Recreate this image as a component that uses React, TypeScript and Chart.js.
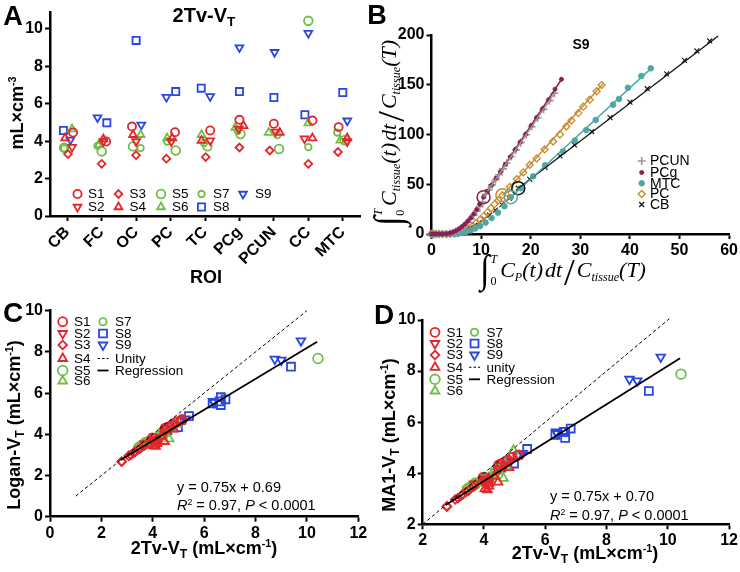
import React, { useEffect, useRef } from 'react';
import { Chart, registerables } from 'chart.js';

Chart.register(...registerables);

const SANS = '"Liberation Sans", Arial, Helvetica, sans-serif';
const SERIF = '"Liberation Serif", "Times New Roman", "DejaVu Serif", serif';

const RED = '#e4262b';
const GREEN = '#6fbe45';
const BLUE = '#2a46e2';

// ---------------- DATA ----------------
const ROI = ['CB', 'FC', 'OC', 'PC', 'TC', 'PCg', 'PCUN', 'CC', 'MTC'];
const SUBJECTS = ['S1', 'S2', 'S3', 'S4', 'S5', 'S6', 'S7', 'S8', 'S9'];

// 2Tv-VT (rows: S1..S9, columns: ROI order)
const TV2_VT = [
  [4.46, 3.98, 4.78, 4.48, 4.57, 5.14, 4.93, 5.10, 4.75],
  [3.68, 3.98, 3.98, 3.98, 4.03, 4.66, 4.50, 4.13, 3.98],
  [3.31, 2.79, 3.25, 3.06, 3.15, 3.66, 3.50, 2.79, 3.42],
  [4.16, 4.11, 4.34, 4.16, 4.03, 4.82, 4.46, 4.16, 4.16],
  [3.65, 3.45, 3.72, 3.50, 3.72, 4.38, 3.58, 10.43, 4.05],
  [4.64, 3.80, 4.34, 4.16, 4.34, 4.73, 4.46, 4.96, 4.04],
  [3.62, 3.75, 3.63, 3.98, 3.90, 4.55, 4.32, 3.68, 4.46],
  [4.57, 4.98, 9.38, 6.65, 6.83, 6.65, 6.33, 5.41, 6.60],
  [4.07, 5.26, 4.87, 6.35, 6.39, 9.00, 8.75, 9.77, 5.09],
];

// horizontal jitter of the points inside each ROI column (panel A)
const A_JITTER = [
  [0.17, 0.13, -0.12, 0.13, 0.15, 0.0, 0.0, 0.12, -0.12],
  [0.14, 0.05, 0.0, 0.02, 0.15, -0.02, 0.05, -0.11, 0.13],
  [0.02, 0.0, 0.0, -0.12, 0.02, 0.0, -0.12, 0.0, -0.14],
  [-0.06, 0.05, -0.09, 0.05, -0.1, 0.12, 0.17, 0.12, 0.13],
  [-0.09, 0.0, -0.09, 0.15, 0.07, 0.03, 0.15, 0.0, 0.05],
  [0.14, -0.08, 0.13, -0.1, -0.1, -0.12, -0.15, 0.0, -0.07],
  [-0.09, -0.12, 0.13, -0.1, -0.03, -0.05, 0.1, 0.0, -0.16],
  [-0.11, 0.15, 0.0, 0.15, -0.11, 0.0, 0.0, -0.1, 0.0],
  [0.09, -0.12, 0.15, -0.12, 0.15, 0.0, 0.02, 0.0, 0.13],
];

// Logan-VT (rows: S1..S9, columns: ROI order)
const LOGAN_VT = [
  [4.22, 3.82, 4.50, 4.30, 4.35, 4.72, 4.60, 4.68, 4.45],
  [3.55, 3.75, 3.70, 3.70, 3.70, 4.30, 4.15, 3.75, 3.65],
  [3.15, 2.67, 3.10, 2.95, 3.00, 3.45, 3.30, 2.68, 3.25],
  [3.75, 3.42, 3.90, 3.55, 3.45, 4.25, 3.65, 3.62, 3.70],
  [3.50, 3.35, 3.60, 3.40, 3.55, 4.10, 3.45, 7.68, 3.80],
  [3.78, 3.60, 3.95, 3.80, 3.90, 4.25, 4.05, 4.50, 3.75],
  [3.50, 3.55, 3.50, 3.75, 3.70, 4.20, 4.00, 3.55, 4.10],
  [4.20, 4.35, 7.28, 5.42, 5.70, 5.80, 5.50, 4.88, 5.60],
  [3.85, 4.75, 4.45, 5.60, 5.55, 7.60, 7.65, 8.54, 4.65],
];

// MA1-VT (rows: S1..S9, columns: ROI order)
const MA1_VT = [
  [4.24, 3.85, 4.52, 4.33, 4.38, 4.72, 4.62, 4.70, 4.48],
  [3.58, 3.78, 3.72, 3.72, 3.72, 4.32, 4.18, 3.75, 3.66],
  [3.17, 2.70, 3.12, 2.97, 3.02, 3.47, 3.32, 2.70, 3.27],
  [3.78, 3.35, 3.88, 3.50, 3.40, 4.22, 3.65, 3.60, 3.68],
  [3.52, 3.37, 3.62, 3.42, 3.57, 4.12, 3.48, 7.88, 3.82],
  [3.80, 3.62, 3.98, 3.82, 3.92, 4.28, 4.08, 4.90, 3.78],
  [3.52, 3.57, 3.52, 3.77, 3.72, 4.22, 4.02, 3.57, 4.12],
  [4.22, 4.38, 7.22, 5.38, 5.75, 5.62, 5.50, 4.95, 5.62],
  [3.88, 4.78, 4.48, 5.62, 5.55, 7.62, 7.68, 8.55, 4.68],
];

// Panel B (S9 Logan plots)
const B_PCUN_X = [0, 0.4, 0.9, 1.5, 2.2, 3.0, 3.7, 4.3, 4.9, 5.5, 6.1, 6.7, 7.3, 7.9, 8.5, 9.1, 9.7, 10.3, 10.9, 11.5, 12.2, 12.9, 13.6, 14.4, 15.2, 16.1, 17.0, 18.0, 19.1, 20.2, 21.4, 22.6, 23.8, 24.8];
const B_PCUN_Y = [0, 0, 0, 0, 0, 0.1, 0.5, 1.3, 2.5, 4, 6, 8.5, 11.5, 15, 19, 23, 27.5, 32, 40, 44.3, 49.4, 54.5, 59.6, 65.5, 71.3, 77.9, 84.5, 91.8, 99.8, 107.8, 116.6, 125.3, 134, 141.4];
const B_PCG_X = [0, 0.4, 0.9, 1.5, 2.2, 3.0, 3.7, 4.3, 4.9, 5.5, 6.1, 6.7, 7.3, 7.9, 8.5, 9.1, 9.7, 10.5, 11.3, 12.1, 13.0, 13.9, 14.9, 15.9, 16.9, 17.9, 19.0, 20.1, 21.2, 22.4, 23.6, 24.9, 26.2];
const B_PCG_Y = [0, 0, 0, 0, 0, 0.2, 0.8, 1.8, 3.2, 5, 7.2, 9.8, 12.8, 16.2, 20, 24.5, 30, 37, 43, 49, 56, 62.5, 70, 77.5, 85, 92.5, 100.5, 109, 117, 126, 135, 145.5, 155.5];
const B_MTC_X = [0, 0.4, 0.9, 1.5, 2.2, 3.0, 3.8, 4.6, 5.4, 6.2, 7.0, 7.9, 8.8, 9.8, 10.9, 12.1, 13.4, 14.7, 16.0, 18.0, 20.5, 22.9, 26.5, 28.9, 31.2, 33.1, 36.6, 37.8, 39.6, 42.3, 44.2];
const B_MTC_Y = [0, 0, 0, 0, 0, 0, 0, 0.2, 0.5, 1.2, 2.2, 3.6, 5.5, 8, 11.5, 16, 21.5, 28, 37, 46, 58, 69, 83, 94, 104.5, 114.6, 130, 135.7, 147, 158.8, 166.5];
const B_PC_X = [0, 0.4, 0.9, 1.5, 2.2, 3.0, 3.8, 4.6, 5.3, 6.0, 6.8, 7.5, 8.3, 9.0, 9.8, 10.5, 11.3, 12.0, 12.7, 13.5, 14.3, 15.8, 17.2, 18.5, 19.8, 21.2, 22.8, 24.5, 25.9, 27.2, 28.2, 29.6, 30.6, 31.9, 33.3, 34.3];
const B_PC_Y = [0, 0, 0, 0, 0, 0, 0.1, 0.4, 1.0, 2.0, 3.5, 5.5, 8, 11, 14.5, 18, 22, 26, 30, 34, 39, 47.3, 55, 62, 69.4, 76, 85, 93, 100, 108, 114, 121.5, 128, 135, 143.5, 149.7];
const B_CB_X = [0, 0.4, 0.9, 1.5, 2.2, 3.0, 3.8, 4.6, 5.4, 6.2, 7.0, 7.8, 8.7, 9.6, 10.6, 11.7, 12.9, 14.2, 15.7, 17.5, 19.8, 22.9, 25.9, 28.8, 32.3, 36.0, 40.0, 43.5, 47.4, 51.0, 53.5, 56.1];
const B_CB_Y = [0, 0, 0, 0, 0, 0, 0.2, 0.6, 1.4, 2.6, 4.2, 6.2, 8.6, 11.5, 15, 19, 24, 29.5, 36, 46, 55, 67, 78.5, 89.5, 103, 117, 132.5, 146, 161, 174.5, 184, 194];

// fitted linear segments (start, end) and the start-of-fit markers
const B_FIT_PCUN = [[10.5, 37], [25.0, 143]];
const B_FIT_PCG = [[10.5, 37], [26.3, 156]];
const B_FIT_MTC = [[16.0, 37], [44.5, 167.5]];
const B_FIT_PC = [[14.3, 39], [34.6, 151]];
const B_FIT_CB = [[17.5, 46], [57.8, 199]];

// C / D reference lines
const C_UNITY = [[1, 1], [10, 10]];
const C_REG = [[2.75, 2.75], [10.4, 8.49]];
const D_UNITY = [[2, 2], [10.05, 10.05]];
const D_REG = [[2.75, 2.76], [10.4, 8.5]];

const A_Y_TICKS = [0, 2, 4, 6, 8, 10];
const A_X_TICKS = [0, 1, 2, 3, 4, 5, 6, 7, 8];
const B_X_TICKS = [0, 10, 20, 30, 40, 50, 60];
const B_Y_TICKS = [0, 50, 100, 150, 200];
const C_X_TICKS = [0, 2, 4, 6, 8, 10, 12];
const C_Y_TICKS = [0, 2, 4, 6, 8, 10];
const D_X_TICKS = [2, 4, 6, 8, 10, 12];
const D_Y_TICKS = [2, 4, 6, 8, 10];

// ---------------- STYLES ----------------
const SUBJ_SHAPE = ['circle', 'triangle', 'rectRot', 'triangle', 'circle', 'triangle', 'circle', 'rect', 'triangle'];
const SUBJ_ROT = [0, 180, 0, 0, 0, 0, 0, 0, 180];
const SUBJ_COLOR = [RED, RED, RED, RED, GREEN, GREEN, GREEN, BLUE, BLUE];
const SUBJ_R = [4.5, 5, 4.3, 5, 4.8, 5, 3.6, 5.6, 5];

const GRAY = '#9a9a9a';
const MAROON = '#8f1d52';
const TEAL = '#4fa7a3';
const ORANGE = '#c98a30';
const BLACK = '#111111';

function drawMarker(ctx: any, shape: string, x: number, y: number, r: number, color: string, fill: boolean, lw: number, rot = 0) {
  ctx.save();
  ctx.lineWidth = lw;
  ctx.strokeStyle = color;
  ctx.fillStyle = color;
  ctx.beginPath();
  if (shape === 'circle') {
    ctx.arc(x, y, r, 0, Math.PI * 2);
  } else if (shape === 'triangle') {
    let a = (rot * Math.PI) / 180;
    for (let k = 0; k < 3; k++) {
      const px = x + Math.sin(a) * r;
      const py = y - Math.cos(a) * r;
      if (k === 0) ctx.moveTo(px, py); else ctx.lineTo(px, py);
      a += (2 * Math.PI) / 3;
    }
    ctx.closePath();
  } else if (shape === 'rectRot') {
    ctx.moveTo(x, y - r); ctx.lineTo(x + r, y); ctx.lineTo(x, y + r); ctx.lineTo(x - r, y); ctx.closePath();
  } else if (shape === 'rect') {
    const s = r * Math.SQRT1_2;
    ctx.rect(x - s, y - s, 2 * s, 2 * s);
  } else if (shape === 'cross') {
    ctx.moveTo(x, y - r); ctx.lineTo(x, y + r); ctx.moveTo(x - r, y); ctx.lineTo(x + r, y);
  } else if (shape === 'crossRot') {
    const s = r * Math.SQRT1_2;
    ctx.moveTo(x - s, y - s); ctx.lineTo(x + s, y + s); ctx.moveTo(x - s, y + s); ctx.lineTo(x + s, y - s);
  } else if (shape === 'dash') {
    ctx.setLineDash([2.5, 2]);
    ctx.moveTo(x - r, y); ctx.lineTo(x + r, y);
  } else if (shape === 'line') {
    ctx.moveTo(x - r, y); ctx.lineTo(x + r, y);
  }
  if (fill) ctx.fill();
  ctx.stroke();
  ctx.restore();
}

type LegendItem = { label: string; shape: string; color: string; r: number; fill?: boolean; lw?: number; rot?: number; mx: number; tx: number; y: number };

function makeLegendPlugin(items: LegendItem[], fontSize: number) {
  return {
    id: 'markerLegend',
    afterDraw(chart: any) {
      const ctx = chart.ctx;
      for (const it of items) {
        drawMarker(ctx, it.shape, it.mx, it.y, it.r, it.color, !!it.fill, it.lw ?? 1.8, it.rot ?? 0);
        ctx.save();
        ctx.fillStyle = '#000';
        ctx.font = `${fontSize}px ${SANS}`;
        ctx.textBaseline = 'middle';
        ctx.textAlign = 'left';
        ctx.fillText(it.label, it.tx, it.y + 0.5);
        ctx.restore();
      }
    },
  };
}

function linAxis(o: { pos: 'x' | 'y'; min: number; max: number; ticks: number[]; size: number; label?: (v: number) => string; rotate?: number }) {
  return {
    type: 'linear',
    position: o.pos === 'x' ? 'bottom' : 'left',
    min: o.min,
    max: o.max,
    border: { display: true, color: '#000', width: 2.5 },
    grid: { display: true, drawOnChartArea: false, drawTicks: true, tickLength: 5, tickWidth: 2, tickColor: '#000' },
    ticks: {
      color: '#000',
      font: { family: SANS, size: 16, weight: 'bold' },
      padding: 2,
      autoSkip: false,
      minRotation: o.rotate ?? 0,
      maxRotation: o.rotate ?? 0,
      callback: o.label ?? ((v: any) => String(v)),
    },
    afterBuildTicks: (s: any) => {
      s.ticks = o.ticks.map((v) => ({ value: v }));
    },
    afterFit: (s: any) => {
      if (o.pos === 'x') s.height = o.size; else s.width = o.size;
    },
  };
}

function baseOptions(padding: any, x: any, y: any) {
  return {
    responsive: false,
    animation: false,
    devicePixelRatio: 1,
    layout: { padding },
    events: [],
    plugins: { legend: { display: false }, tooltip: { enabled: false }, title: { display: false } },
    scales: { x, y },
  };
}

function subjectDataset(si: number, pts: { x: number; y: number }[], scale: number) {
  return {
    label: SUBJECTS[si],
    data: pts,
    showLine: false,
    pointStyle: SUBJ_SHAPE[si],
    pointRotation: SUBJ_ROT[si],
    pointRadius: SUBJ_R[si] * scale,
    pointBorderColor: SUBJ_COLOR[si],
    pointBackgroundColor: 'rgba(255,255,255,0)',
    pointBorderWidth: 1.8,
    clip: false,
  };
}

function lineDataset(seg: number[][], color: string, width: number, dash: number[] = []) {
  return {
    data: seg.map((p) => ({ x: p[0], y: p[1] })),
    showLine: true,
    borderColor: color,
    borderWidth: width,
    borderDash: dash,
    pointRadius: 0,
    fill: false,
    clip: false,
  };
}

function subjectLegend(cols: { mx: number; tx: number }[], rows: number[], scale: number, extra: LegendItem[]): LegendItem[] {
  // column-major: first column S1..S6, second column S7..S9
  const items: LegendItem[] = [];
  SUBJECTS.forEach((s, si) => {
    const c = si < 6 ? 0 : 1;
    const r = si < 6 ? si : si - 6;
    items.push({ label: s, shape: SUBJ_SHAPE[si], rot: SUBJ_ROT[si], color: SUBJ_COLOR[si], r: SUBJ_R[si] * scale, mx: cols[c].mx, tx: cols[c].tx, y: rows[r] });
  });
  return items.concat(extra);
}

// ---------------- PANEL CONFIGS ----------------
function makeA() {
  const datasets = SUBJECTS.map((_, si) =>
    subjectDataset(si, TV2_VT[si].map((v, ri) => ({ x: A_X_TICKS[ri] + A_JITTER[si][ri], y: v })), 0.9)
  );
  const colX = [{ mx: 77.5, tx: 88 }, { mx: 118.5, tx: 129.5 }, { mx: 161, tx: 172 }, { mx: 201.5, tx: 213 }, { mx: 243, tx: 255 }];
  const rows = [194, 207];
  const legend: LegendItem[] = SUBJECTS.map((s, si) => ({
    label: s, shape: SUBJ_SHAPE[si], rot: SUBJ_ROT[si], color: SUBJ_COLOR[si], r: SUBJ_R[si] * 0.9,
    mx: colX[Math.floor(si / 2)].mx, tx: colX[Math.floor(si / 2)].tx, y: rows[si % 2],
  }));
  return {
    type: 'scatter',
    data: { datasets },
    options: baseOptions(
      { left: 0, right: 10, top: 12, bottom: 0 },
      linAxis({ pos: 'x', min: -0.5, max: 8.5, ticks: A_X_TICKS, size: 74, rotate: 45, label: (v: number) => ROI[v] }),
      linAxis({ pos: 'y', min: 0, max: 10.9, ticks: A_Y_TICKS, size: 50 })
    ),
    plugins: [makeLegendPlugin(legend, 13.5)],
  };
}

function bPoints(xs: number[], ys: number[]) {
  return xs.map((x, i) => ({ x, y: ys[i] }));
}

function makeB() {
  const mk = (xs: number[], ys: number[], shape: string, color: string, r: number, fill: boolean, bw: number) => ({
    data: bPoints(xs, ys),
    showLine: false,
    pointStyle: shape,
    pointRadius: r,
    pointBorderColor: color,
    pointBackgroundColor: fill ? color : 'rgba(255,255,255,0)',
    pointBorderWidth: bw,
    clip: false,
  });
  const ring = (seg: number[][], color: string) => ({
    data: [{ x: seg[0][0], y: seg[0][1] }],
    showLine: false,
    pointStyle: 'circle',
    pointRadius: 6.5,
    pointBorderColor: color,
    pointBackgroundColor: 'rgba(255,255,255,0)',
    pointBorderWidth: 1.5,
    clip: false,
  });
  const datasets = [
    ring(B_FIT_PCG, MAROON),
    ring(B_FIT_PC, ORANGE),
    ring(B_FIT_MTC, TEAL),
    ring(B_FIT_CB, BLACK),
    lineDataset(B_FIT_PCUN, GRAY, 1.5),
    lineDataset(B_FIT_PCG, MAROON, 1.5),
    lineDataset(B_FIT_MTC, TEAL, 1.5),
    lineDataset(B_FIT_PC, ORANGE, 1.5),
    lineDataset(B_FIT_CB, BLACK, 1.3),
    mk(B_PCG_X, B_PCG_Y, 'circle', MAROON, 2, true, 1),
    mk(B_PCUN_X, B_PCUN_Y, 'cross', GRAY, 4, false, 1.6),
    mk(B_MTC_X, B_MTC_Y, 'circle', TEAL, 2.8, true, 1),
    mk(B_PC_X, B_PC_Y, 'rectRot', ORANGE, 3.5, false, 1.3),
    mk(B_CB_X, B_CB_Y, 'crossRot', BLACK, 3.5, false, 1.1),
  ];
  const legend: LegendItem[] = [
    { label: 'PCUN', shape: 'cross', color: GRAY, r: 4, lw: 1.6, mx: 271.7, tx: 280, y: 161 },
    { label: 'PCg', shape: 'circle', color: MAROON, r: 2, fill: true, lw: 1, mx: 271.7, tx: 280, y: 172.5 },
    { label: 'MTC', shape: 'circle', color: TEAL, r: 2.8, fill: true, lw: 1, mx: 271.7, tx: 280, y: 183.3 },
    { label: 'PC', shape: 'rectRot', color: ORANGE, r: 3.5, lw: 1.3, mx: 271.7, tx: 280, y: 194 },
    { label: 'CB', shape: 'crossRot', color: BLACK, r: 3.5, lw: 1.2, mx: 271.7, tx: 280, y: 204.5 },
  ];
  return {
    type: 'scatter',
    data: { datasets },
    options: baseOptions(
      { left: 0, right: 10.5, top: 35, bottom: 0 },
      linAxis({ pos: 'x', min: 0, max: 60, ticks: B_X_TICKS, size: 56 }),
      linAxis({ pos: 'y', min: 0, max: 200, ticks: B_Y_TICKS, size: 61.5 })
    ),
    plugins: [makeLegendPlugin(legend, 14)],
  };
}

function makeCompare(yVals: number[][], unity: number[][], reg: number[][], xAxis: any, yAxis: any, padding: any, cols: { mx: number; tx: number }[], rows: number[], unityLabel: string, lineX: number) {
  const datasets: any[] = [
    lineDataset(reg, '#000', 1.8),
    lineDataset(unity, '#000', 1, [3.5, 2.5]),
  ];
  SUBJECTS.forEach((_, si) => {
    datasets.push(subjectDataset(si, TV2_VT[si].map((x, ri) => ({ x, y: yVals[si][ri] })), 1));
  });
  const extra: LegendItem[] = [
    { label: unityLabel, shape: 'dash', color: '#000', r: 5.5, lw: 1.1, mx: lineX, tx: cols[1].tx, y: rows[3] },
    { label: 'Regression', shape: 'line', color: '#000', r: 5.5, lw: 1.8, mx: lineX, tx: cols[1].tx, y: rows[4] },
  ];
  return {
    type: 'scatter',
    data: { datasets },
    options: baseOptions(padding, xAxis, yAxis),
    plugins: [makeLegendPlugin(subjectLegend(cols, rows, 1, extra), 13.5)],
  };
}

function makeC() {
  return makeCompare(
    LOGAN_VT, C_UNITY, C_REG,
    linAxis({ pos: 'x', min: 0, max: 12, ticks: C_X_TICKS, size: 55.3 }),
    linAxis({ pos: 'y', min: 0, max: 10, ticks: C_Y_TICKS, size: 50 }),
    { left: 0, right: 11.7, top: 20.7, bottom: 0 },
    [{ mx: 62.7, tx: 74 }, { mx: 103, tx: 115 }],
    [31.7, 43.5, 55, 68.5, 80.5, 91],
    'Unity', 103
  );
}

function makeD() {
  return makeCompare(
    MA1_VT, D_UNITY, D_REG,
    linAxis({ pos: 'x', min: 2, max: 12, ticks: D_X_TICKS, size: 47.7 }),
    linAxis({ pos: 'y', min: 2, max: 10, ticks: D_Y_TICKS, size: 52.7 }),
    { left: 0, right: 10.7, top: 30, bottom: 0 },
    [{ mx: 65, tx: 76.5 }, { mx: 104.5, tx: 116.5 }],
    [42.3, 53.5, 65, 77.3, 89.3, 101],
    'unity', 104.5
  );
}

// ---------------- COMPONENTS ----------------
function ChartCanvas({ left, top, width, height, make }: { left: number; top: number; width: number; height: number; make: () => any }) {
  const ref = useRef<HTMLCanvasElement | null>(null);
  useEffect(() => {
    const chart = new Chart(ref.current as HTMLCanvasElement, make());
    return () => chart.destroy();
  }, []);
  return (
    <canvas
      ref={ref}
      width={width}
      height={height}
      style={{ position: 'absolute', left, top, width, height }}
    />
  );
}

function Txt({ x, y, size, bold = true, rot = 0, align = 'center', family = SANS, italic = false, children }: any) {
  const tx = align === 'center' ? '-50%' : align === 'left' ? '0%' : '-100%';
  return (
    <div
      style={{
        position: 'absolute',
        left: x,
        top: y,
        transform: `translate(${tx}, -50%) rotate(${rot}deg)`,
        transformOrigin: align === 'left' ? 'left center' : 'center center',
        whiteSpace: 'nowrap',
        fontFamily: family,
        fontSize: size,
        fontWeight: bold ? 'bold' : 'normal',
        fontStyle: italic ? 'italic' : 'normal',
        lineHeight: 1,
        color: '#000',
      }}
    >
      {children}
    </div>
  );
}

const Sub = ({ children }: any) => (
  <span style={{ fontSize: '0.68em', position: 'relative', top: '0.32em' }}>{children}</span>
);
const Sup = ({ children }: any) => (
  <span style={{ fontSize: '0.6em', position: 'relative', top: '-0.62em' }}>{children}</span>
);

function IntegralTitle({ x, y, rot, size, num }: { x: number; y: number; rot: number; size: number; num: string }) {
  const small = size * 0.55;
  const subStyle: any = { fontSize: small, position: 'relative', top: size * 0.32 };
  return (
    <div
      style={{
        position: 'absolute',
        left: x,
        top: y,
        transform: `translate(-50%, -50%) rotate(${rot}deg)`,
        whiteSpace: 'nowrap',
        fontFamily: SERIF,
        fontSize: size,
        fontStyle: 'italic',
        lineHeight: 1,
        display: 'flex',
        alignItems: 'center',
        color: '#000',
      }}
    >
      <span style={{ fontSize: size * 1.55, fontStyle: 'normal', lineHeight: 1, display: 'inline-block', transform: 'scaleY(1.15)' }}>∫</span>
      <span style={{ display: 'flex', flexDirection: 'column', justifyContent: 'space-between', height: size * 1.55, fontSize: small, margin: '0 3px 0 1px' }}>
        <span>T</span>
        <span style={{ fontStyle: 'normal' }}>0</span>
      </span>
      <span>C</span>
      <span style={subStyle}>{num}</span>
      <span>(t)</span>
      <span style={{ marginLeft: 2 }}>dt</span>
      <span style={{ fontSize: size * 1.75, fontStyle: 'normal', lineHeight: 1, margin: '0 2px', display: 'inline-block', transform: 'translateY(2px)' }}>/</span>
      <span>C</span>
      <span style={subStyle}>tissue</span>
      <span>(T)</span>
    </div>
  );
}

export default function App() {
  return (
    <div style={{ position: 'absolute', left: 0, top: 0, width: 740, height: 572, background: '#fff', overflow: 'hidden', fontFamily: SANS }}>
      <ChartCanvas left={0} top={0} width={370} height={290} make={makeA} />
      <ChartCanvas left={370} top={0} width={370} height={290} make={makeB} />
      <ChartCanvas left={0} top={290} width={370} height={282} make={makeC} />
      <ChartCanvas left={370} top={290} width={370} height={282} make={makeD} />

      {/* Panel letters */}
      <Txt x={13} y={16} size={27}>A</Txt>
      <Txt x={377} y={15} size={27}>B</Txt>
      <Txt x={13} y={313} size={28}>C</Txt>
      <Txt x={384} y={315} size={28}>D</Txt>

      {/* Panel A texts */}
      <Txt x={204} y={15} size={20}>2Tv-V<Sub>T</Sub></Txt>
      <Txt x={17} y={113} size={18} rot={-90}>mL×cm<Sup>-3</Sup></Txt>
      <Txt x={206} y={277} size={18}>ROI</Txt>

      {/* Panel B texts */}
      <Txt x={581} y={44} size={14}>S9</Txt>
      <IntegralTitle x={389} y={133} rot={-90} size={22} num="tissue" />
      <IntegralTitle x={563} y={270} rot={0} size={22} num="P" />

      {/* Panel C texts */}
      <Txt x={14} y={425} size={18} rot={-90}>Logan-V<Sub>T</Sub> (mL×cm<Sup>-1</Sup>)</Txt>
      <Txt x={204} y={548} size={18}>2Tv-V<Sub>T</Sub> (mL×cm<Sup>-1</Sup>)</Txt>
      <Txt x={177} y={487} size={14.5} bold={false} align="left">y = 0.75x + 0.69</Txt>
      <Txt x={177} y={505} size={14.5} bold={false} align="left"><i>R</i><Sup>2</Sup> = 0.97, <i>P</i> &lt; 0.0001</Txt>

      {/* Panel D texts */}
      <Txt x={389} y={435} size={18} rot={-90}>MA1-V<Sub>T</Sub> (mL×cm<Sup>-1</Sup>)</Txt>
      <Txt x={585} y={553} size={18}>2Tv-V<Sub>T</Sub> (mL×cm<Sup>-1</Sup>)</Txt>
      <Txt x={550} y={496} size={14.5} bold={false} align="left">y = 0.75x + 0.70</Txt>
      <Txt x={550} y={515} size={14.5} bold={false} align="left"><i>R</i><Sup>2</Sup> = 0.97, <i>P</i> &lt; 0.0001</Txt>
    </div>
  );
}
